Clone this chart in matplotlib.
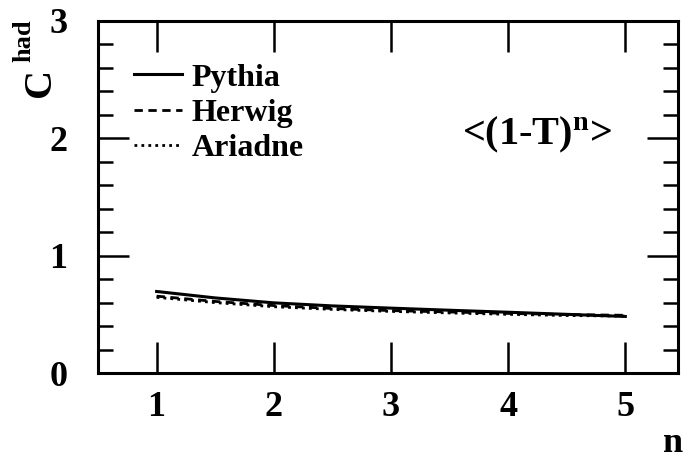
import matplotlib
matplotlib.use("Agg")
import matplotlib.pyplot as plt
from matplotlib.ticker import MultipleLocator

n = [1, 1.5, 2, 2.5, 3, 3.5, 4, 4.5, 5]
pythia = [0.695, 0.64, 0.598, 0.572, 0.553, 0.535, 0.518, 0.50, 0.482]
herwig = [0.655, 0.61, 0.575, 0.55, 0.532, 0.52, 0.508, 0.498, 0.492]
ariadne = [0.645, 0.60, 0.565, 0.542, 0.525, 0.512, 0.50, 0.49, 0.485]

plt.rcParams['font.family'] = ['Liberation Serif', 'DejaVu Serif']
plt.rcParams['font.weight'] = 'bold'
plt.rcParams['mathtext.fontset'] = 'custom'
plt.rcParams['mathtext.rm'] = 'Liberation Serif:bold'
plt.rcParams['mathtext.bf'] = 'Liberation Serif:bold'
plt.rcParams['mathtext.it'] = 'Liberation Serif:italic:bold'

fig = plt.figure(figsize=(6.84, 4.62), dpi=100)
ax = fig.add_axes([0.1433, 0.1926, 0.848, 0.762])

ax.plot(n, pythia, color='black', lw=2.2, ls='-', label='Pythia')
ax.plot(n, herwig, color='black', lw=2.0, ls=(0, (3, 2)), label='Herwig')
ax.plot(n, ariadne, color='black', lw=2.0, ls=(0, (1, 1.5)), label='Ariadne')

ax.set_xlim(0.5, 5.45)
ax.set_ylim(0, 3)
ax.xaxis.set_major_locator(MultipleLocator(1))
ax.yaxis.set_major_locator(MultipleLocator(1))
ax.yaxis.set_minor_locator(MultipleLocator(0.2))

for s in ax.spines.values():
    s.set_linewidth(2.2)
ax.tick_params(axis='both', which='major', direction='in', length=22, width=1.8,
               top=True, right=True, labelsize=26)
ax.tick_params(axis='x', which='major', pad=13)
ax.tick_params(axis='y', which='major', pad=22)
ax.tick_params(axis='y', which='minor', direction='in', length=11, width=1.8,
               left=True, right=True)
for lab in ax.get_xticklabels() + ax.get_yticklabels():
    lab.set_fontweight('bold')

# y-axis title: C with superscript "had" (rotated)
fig.text(0.059, 0.8225, 'C', rotation=90, fontsize=29,
         fontweight='bold', ha='center', va='center')
fig.text(0.035, 0.911, 'had', rotation=90, fontsize=19,
         fontweight='bold', ha='center', va='center')
fig.text(0.999, 0.005, 'n', fontsize=26, fontweight='bold', ha='right', va='bottom')

ax.text(0.886, 0.648, r'<(1-T)$^{\mathbf{n}}$>', transform=ax.transAxes,
        fontsize=29, fontweight='bold', ha='right', va='baseline')

leg = ax.legend(loc='upper left', bbox_to_anchor=(0.062, 0.88), frameon=False,
                fontsize=23, handlelength=1.5, handletextpad=0.3, labelspacing=0.18,
                borderaxespad=0, borderpad=0)
for t in leg.get_texts():
    t.set_fontweight('bold')

fig.savefig('out.png', dpi=100)
